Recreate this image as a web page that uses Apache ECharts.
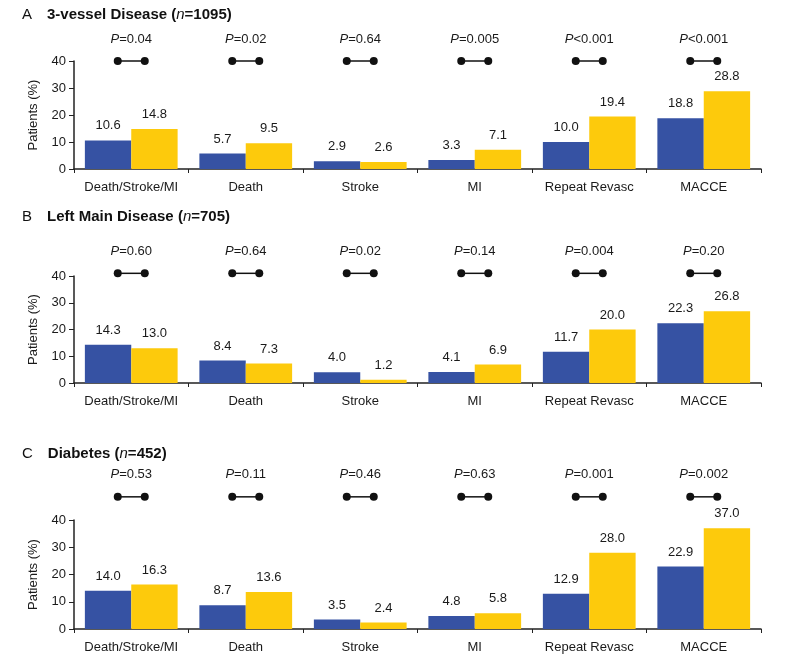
<!DOCTYPE html>
<html>
<head>
<meta charset="utf-8">
<script src="https://cdn.jsdelivr.net/npm/echarts@6/dist/echarts.min.js"></script>
<style>html,body{margin:0;padding:0;background:#fff}#c{width:798px;height:666px}</style>
</head>
<body>
<div id="c"></div>
<script>
const categories = ['Death/Stroke/MI', 'Death', 'Stroke', 'MI', 'Repeat Revasc', 'MACCE'];
const yTicks = [0, 10, 20, 30, 40];

const vesselBlue = [10.6, 5.7, 2.9, 3.3, 10.0, 18.8];
const vesselYellow = [14.8, 9.5, 2.6, 7.1, 19.4, 28.8];
const vesselP = ['=0.04', '=0.02', '=0.64', '=0.005', '<0.001', '<0.001'];

const leftMainBlue = [14.3, 8.4, 4.0, 4.1, 11.7, 22.3];
const leftMainYellow = [13.0, 7.3, 1.2, 6.9, 20.0, 26.8];
const leftMainP = ['=0.60', '=0.64', '=0.02', '=0.14', '=0.004', '=0.20'];

const diabetesBlue = [14.0, 8.7, 3.5, 4.8, 12.9, 22.9];
const diabetesYellow = [16.3, 13.6, 2.4, 5.8, 28.0, 37.0];
const diabetesP = ['=0.53', '=0.11', '=0.46', '=0.63', '=0.001', '=0.002'];

const panels = [
  { letter: 'A', name: '3-vessel Disease (', n: '1095', blue: vesselBlue, yellow: vesselYellow, p: vesselP, level: 40, top: 61, height: 108, titleTop: 1 },
  { letter: 'B', name: 'Left Main Disease (', n: '705', blue: leftMainBlue, yellow: leftMainYellow, p: leftMainP, level: 41, top: 276, height: 107, titleTop: 203 },
  { letter: 'C', name: 'Diabetes (', n: '452', blue: diabetesBlue, yellow: diabetesYellow, p: diabetesP, level: 48.5, top: 520, height: 109, titleTop: 440 }
];

const BLUE = '#3652a3';
const YELLOW = '#fdca0c';
const FONT = '"Liberation Sans", Arial, sans-serif';

const option = {
  animation: false,
  backgroundColor: '#fff',
  textStyle: { fontFamily: FONT },
  title: [], grid: [], xAxis: [], yAxis: [], series: []
};

panels.forEach((pn, k) => {
  option.title.push({
    left: 17, top: pn.titleTop,
    text: '{a|' + pn.letter + '}   {b|' + pn.name + '}{i|n}{b|=' + pn.n + ')}',
    textStyle: {
      fontWeight: 'normal',
      rich: {
        a: { fontSize: 15, fontWeight: 'normal', fontFamily: FONT, color: '#111' },
        b: { fontSize: 15, fontWeight: 'bold', fontFamily: FONT, color: '#111' },
        i: { fontSize: 15, fontStyle: 'italic', fontWeight: 'normal', fontFamily: FONT, color: '#111' }
      }
    }
  });
  option.grid.push({ left: 74, right: 37, top: pn.top, height: pn.height, containLabel: false });
  option.xAxis.push({
    gridIndex: k, type: 'category', data: categories,
    axisLine: { lineStyle: { color: '#222', width: 1.5 } },
    axisTick: { show: true, length: 4, lineStyle: { color: '#222' } },
    axisLabel: { fontSize: 13, color: '#1a1a1a', margin: 12, fontFamily: FONT, interval: 0 }
  });
  option.yAxis.push({
    gridIndex: k, type: 'value', min: yTicks[0], max: yTicks[yTicks.length - 1], interval: yTicks[1] - yTicks[0],
    name: 'Patients (%)', nameLocation: 'middle', nameGap: 34,
    nameTextStyle: { fontSize: 13, color: '#1a1a1a', fontFamily: FONT },
    axisLine: { show: true, lineStyle: { color: '#222', width: 1.5 } },
    axisTick: { show: true, length: 5, lineStyle: { color: '#222' } },
    axisLabel: { fontSize: 13, color: '#1a1a1a', margin: 8, fontFamily: FONT },
    splitLine: { show: false }
  });
  const lbl = {
    show: true, position: 'top', distance: 8, fontSize: 13, color: '#1a1a1a', fontFamily: FONT,
    formatter: (p) => p.value.toFixed(1)
  };
  option.series.push({
    type: 'bar', xAxisIndex: k, yAxisIndex: k, data: pn.blue,
    itemStyle: { color: BLUE }, barGap: '0%', barCategoryGap: '19%', label: lbl
  });
  option.series.push({
    type: 'bar', xAxisIndex: k, yAxisIndex: k, data: pn.yellow,
    itemStyle: { color: YELLOW }, barGap: '0%', barCategoryGap: '19%', label: lbl
  });
  const pArr = pn.p;
  option.series.push({
    type: 'custom', xAxisIndex: k, yAxisIndex: k, clip: false, silent: true,
    data: categories.map((c, i) => [i, pn.level]),
    renderItem: (params, api) => {
      const c = api.coord([api.value(0), api.value(1)]);
      const w = api.size([1, 0])[0];
      const dx = w * 0.118;
      return {
        type: 'group',
        children: [
          { type: 'line', shape: { x1: c[0] - dx, y1: c[1], x2: c[0] + dx, y2: c[1] }, style: { stroke: '#111', lineWidth: 1.5 } },
          { type: 'circle', shape: { cx: c[0] - dx, cy: c[1], r: 4 }, style: { fill: '#111' } },
          { type: 'circle', shape: { cx: c[0] + dx, cy: c[1], r: 4 }, style: { fill: '#111' } },
          {
            type: 'text', x: c[0], y: c[1] - 22,
            style: {
              text: '{i|P}{n|' + pArr[params.dataIndex] + '}',
              align: 'center', verticalAlign: 'middle',
              rich: {
                i: { fontSize: 13, fontStyle: 'italic', fontFamily: FONT, fill: '#1a1a1a' },
                n: { fontSize: 13, fontFamily: FONT, fill: '#1a1a1a' }
              }
            }
          }
        ]
      };
    }
  });
});

const chart = echarts.init(document.getElementById('c'), null, { renderer: 'canvas' });
chart.setOption(option);
</script>
</body>
</html>
